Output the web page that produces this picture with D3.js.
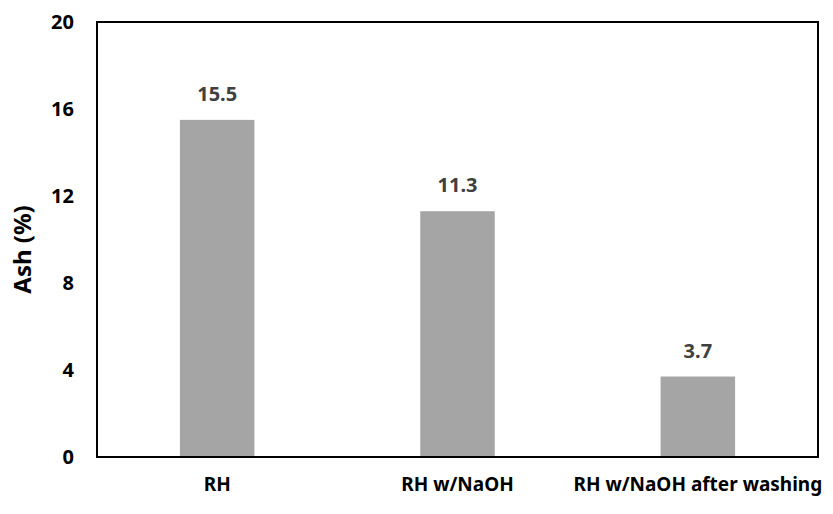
<!DOCTYPE html>
<html>
<head>
<meta charset="utf-8">
<script src="https://cdn.jsdelivr.net/npm/d3@7"></script>
<style>
	body { margin: 0; background: #fff; }
	text { font-family: "Noto Sans", "DejaVu Sans", sans-serif; font-weight: bold; }
</style>
</head>
<body>
<div id="chart"></div>
<script>
var categories = ["RH", "RH w/NaOH", "RH w/NaOH after washing"];
var ashValues = [15.5, 11.3, 3.7];
var yTicks = [0, 4, 8, 12, 16, 20];

var margin = {
		top: 22,
		right: 15,
		bottom: 57,
		left: 97
	},
	width = 833 - margin.left - margin.right,
	height = 514 - margin.top - margin.bottom;

var svg = d3.select("#chart")
	.append("svg")
	.attr("width", 833)
	.attr("height", 514)
	.append("g")
	.attr("transform", "translate(" + margin.left + "," + margin.top + ")");

var x = d3.scaleBand()
	.range([0, width])
	.domain(categories)
	.padding(0);

var y = d3.scaleLinear()
	.domain([0, 20])
	.range([height, 0]);

var barWidth = x.bandwidth() * 0.31;

svg.selectAll("rect.bar")
	.data(ashValues)
	.enter()
	.append("rect")
	.attr("class", "bar")
	.attr("x", function (d, i) {
		return x(categories[i]) + x.bandwidth() / 2 - barWidth / 2;
	})
	.attr("width", barWidth)
	.attr("y", function (d) {
		return y(d);
	})
	.attr("height", function (d) {
		return height - y(d);
	})
	.attr("fill", "#a5a5a5");

// value labels
svg.selectAll("text.val")
	.data(ashValues)
	.enter()
	.append("text")
	.attr("class", "val")
	.attr("text-anchor", "middle")
	.attr("x", function (d, i) {
		return x(categories[i]) + x.bandwidth() / 2;
	})
	.attr("y", function (d) {
		return y(d) - 19;
	})
	.style("font-size", "20px")
	.attr("fill", "#404040")
	.text(function (d) {
		return d.toFixed(1);
	});

// frame
svg.append("rect")
	.attr("x", 0)
	.attr("y", 0)
	.attr("width", width)
	.attr("height", height)
	.attr("fill", "none")
	.attr("stroke", "#000")
	.attr("stroke-width", 2);

var yAxis = svg.append("g")
	.call(d3.axisLeft(y).tickValues(yTicks).tickSize(0).tickPadding(23));
yAxis.select(".domain").remove();
yAxis.selectAll("text")
	.style("font-size", "20px")
	.attr("fill", "#000");

var xAxis = svg.append("g")
	.attr("transform", "translate(0," + height + ")")
	.call(d3.axisBottom(x).tickSize(0).tickPadding(21));
xAxis.select(".domain").remove();
xAxis.selectAll("text")
	.style("font-size", "19px")
	.attr("fill", "#000");

svg.append("text")
	.attr("text-anchor", "middle")
	.attr("transform", "translate(" + (-66) + "," + (height / 2 + 10) + ") rotate(-90)")
	.style("font-size", "24px")
	.attr("fill", "#000")
	.text("Ash (%)");
</script>
</body>
</html>
